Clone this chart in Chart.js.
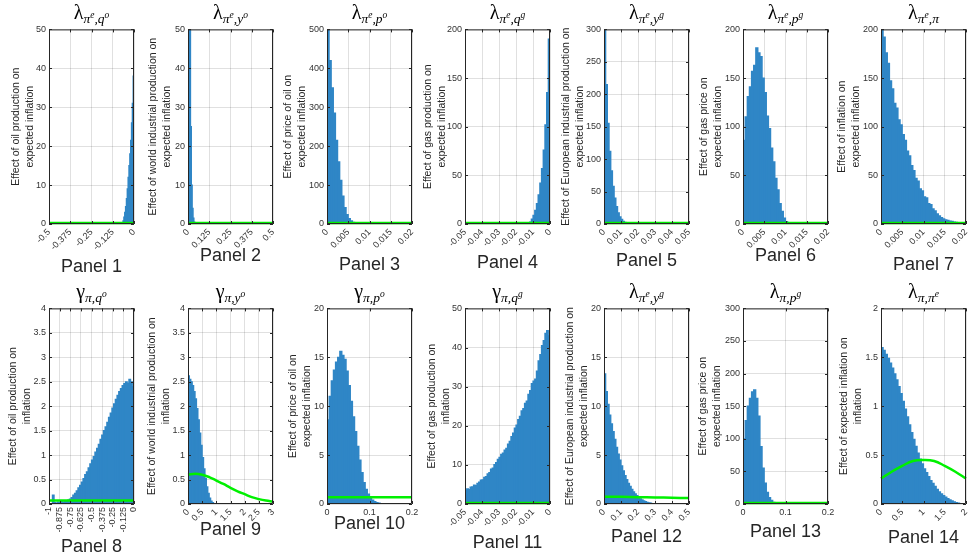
<!DOCTYPE html>
<html>
<head>
<meta charset="utf-8">
<script src="https://cdn.jsdelivr.net/npm/chart.js@4.4.1/dist/chart.umd.min.js"></script>
<style>
    body { margin: 0; width: 971px; height: 559px; background: #fff; position: relative; overflow: hidden;
           font-family: "Liberation Sans", Arial, sans-serif; }
    canvas { position: absolute; }
    .ttl { position: absolute; width: 120px; text-align: center; font-family: "Liberation Serif", serif;
           font-size: 20px; line-height: 20px; color: #000; white-space: nowrap; }
    .ttl .sb { font-size: 13.5px; font-style: italic; position: relative; top: 4px; }
    .ttl .sp { font-size: 9.5px; position: relative; top: -5px; }
    .lbl { position: absolute; width: 120px; text-align: center; font-size: 18px; line-height: 20px; color: #262626; }
</style>
</head>
<body>
<script>
// ---- data ----
// histogram bars: first bin edge, bin width, heights
const binStart = [-0.07, 0, 0, -0.013, 0, 0, 0, -1, 0, 0, -0.05, 0, 0, 0];
const binWidth = [0.005, 0.005, 0.0005, 0.001, 0.001, 0.0005, 0.0005, 0.02, 0.05, 0.005, 0.001, 0.01, 0.005, 0.05];

const hist1 = [0.2, 0.8, 1.8, 3, 4.5, 6.5, 9, 12, 15, 18, 21.5, 26, 31, 38];
const hist2 = [150, 90, 55, 25, 10, 4, 1.5, 0.5, 0.2];
const hist3 = [520, 420, 350, 285, 215, 160, 112, 72, 42, 24, 14, 8, 4.5, 2.5, 1.2, 0.5];
const hist4 = [0.5, 2, 5, 9, 14, 21, 30, 42, 57, 76, 102, 135, 190];
const hist5 = [320, 215, 155, 112, 82, 58, 40, 27, 17, 11, 7, 4, 2.5, 1.5, 0.8, 0.4];
const hist6 = [86, 110, 131, 141, 157, 163, 181, 176, 172, 150, 135, 111, 98, 78, 64, 47, 35, 21, 13, 6, 2.5, 0.8];
const hist7 = [215, 192, 176, 165, 147, 139, 124, 119, 107, 102, 92, 86, 75, 70, 60, 55, 47, 44, 36, 34,
               28, 27, 21, 20, 15.5, 13.5, 10.5, 8.5, 6.5, 5.2, 4.3, 3.7, 3, 2.6, 2, 1.7, 1.2, 0.9, 0.6, 0.4];
const hist8 = [0, 0, 0.18, 0.03, 0.02, 0.04, 0.03, 0.05, 0.04, 0.06, 0.05, 0.08, 0.1, 0.13, 0.18, 0.22, 0.27,
               0.33, 0.38, 0.45, 0.52, 0.6, 0.66, 0.74, 0.82, 0.9, 0.97, 1.06, 1.14, 1.22, 1.32, 1.41, 1.5, 1.58,
               1.67, 1.77, 1.86, 1.96, 2.05, 2.14, 2.22, 2.3, 2.36, 2.42, 2.46, 2.5, 2.47, 2.55, 2.5, 2.4];
const hist9 = [2.62, 2.55, 2.5, 2.42, 2.3, 2.15, 1.95, 1.72, 1.45, 1.2, 0.95, 0.72, 0.52, 0.35, 0.22, 0.12, 0.06, 0.03, 0.01];
const hist10 = [8.6, 11, 12.6, 13.7, 14.5, 15, 15.6, 15.2, 14.8, 13.6, 12.1, 10.5, 8.9, 7.4, 5.9, 4.5, 3.2, 2.2,
                1.5, 1.0, 0.6, 0.4, 0.25, 0.15, 0.1, 0.05, 0.03];
const hist11 = [3.5, 3.9, 3.7, 4.3, 4.4, 4.8, 4.7, 5.3, 5.6, 6.1, 6.2, 6.8, 7.0, 7.7, 8.0, 8.9, 9.2, 10.1, 10.6,
                11.4, 11.9, 12.7, 13.0, 13.8, 14.2, 15.3, 16.0, 17.2, 18.1, 19.4, 20.2, 21.6, 22.4, 23.8, 24.4,
                25.7, 26.3, 28.0, 29.0, 30.8, 31.4, 31.9, 34.0, 36.6, 38.2, 40.5, 41.8, 43.6, 44.3, 43.0];
const hist12 = [13.3, 11.5, 10.2, 9.1, 8.2, 7.4, 6.6, 5.8, 5.1, 4.5, 3.9, 3.4, 2.9, 2.5, 2.1, 1.8, 1.5, 1.25,
                1.05, 0.85, 0.68, 0.53, 0.42, 0.32, 0.24, 0.17, 0.12, 0.08, 0.05, 0.03];
const hist13 = [100, 128, 150, 162, 172, 175, 162, 135, 88, 55, 32, 18, 10, 5.5, 2.5, 1];
const hist14 = [1.6, 1.57, 1.53, 1.49, 1.44, 1.39, 1.33, 1.27, 1.2, 1.13, 1.05, 0.97, 0.89, 0.81, 0.73, 0.66,
                0.59, 0.52, 0.46, 0.41, 0.36, 0.32, 0.28, 0.24, 0.21, 0.18, 0.15, 0.125, 0.105, 0.085, 0.07,
                0.055, 0.042, 0.031, 0.022, 0.014, 0.008, 0.004];

// green prior curves (x, y)
const priorX = [[-0.5, 0], [0, 0.5], [0, 0.02], [-0.05, 0], [0, 0.05], [0, 0.02], [0, 0.02], [-1, 0],
                [0, 0.25, 0.5, 0.75, 1, 1.25, 1.5, 1.75, 2, 2.25, 2.5, 2.75, 3], [0, 0.2], [-0.05, 0],
                [0, 0.1, 0.2, 0.3, 0.4, 0.5], [0, 0.2], [0, 0.25, 0.5, 0.75, 1, 1.25, 1.5, 1.75, 2]];
const priorY = [[0.25, 0.25], [0.25, 0.25], [2.5, 2.5], [1, 1], [1.5, 1.5], [1, 1], [1, 1], [0.07, 0.07],
                [0.6, 0.62, 0.6, 0.55, 0.48, 0.41, 0.33, 0.26, 0.2, 0.14, 0.1, 0.07, 0.05], [0.7, 0.7], [0.25, 0.25],
                [0.75, 0.73, 0.7, 0.67, 0.64, 0.61], [1.5, 1.5], [0.26, 0.33, 0.39, 0.44, 0.45, 0.44, 0.39, 0.33, 0.26]];

// tick values
const xTicks = [
    [-0.5, -0.375, -0.25, -0.125, 0], [0, 0.125, 0.25, 0.375, 0.5], [0, 0.005, 0.01, 0.015, 0.02],
    [-0.05, -0.04, -0.03, -0.02, -0.01, 0], [0, 0.01, 0.02, 0.03, 0.04, 0.05], [0, 0.005, 0.01, 0.015, 0.02],
    [0, 0.005, 0.01, 0.015, 0.02], [-1, -0.875, -0.75, -0.625, -0.5, -0.375, -0.25, -0.125, 0],
    [0, 0.5, 1, 1.5, 2, 2.5, 3], [0, 0.1, 0.2], [-0.05, -0.04, -0.03, -0.02, -0.01, 0],
    [0, 0.1, 0.2, 0.3, 0.4, 0.5], [0, 0.1, 0.2], [0, 0.5, 1, 1.5, 2]
];
const yTicks = [
    [0, 10, 20, 30, 40, 50], [0, 10, 20, 30, 40, 50], [0, 100, 200, 300, 400, 500], [0, 50, 100, 150, 200],
    [0, 50, 100, 150, 200, 250, 300], [0, 50, 100, 150, 200], [0, 50, 100, 150, 200],
    [0, 0.5, 1, 1.5, 2, 2.5, 3, 3.5, 4], [0, 0.5, 1, 1.5, 2, 2.5, 3, 3.5, 4], [0, 5, 10, 15, 20],
    [0, 10, 20, 30, 40, 50], [0, 5, 10, 15, 20], [0, 50, 100, 150, 200, 250, 300], [0, 0.5, 1, 1.5, 2]
];

// labels
const yLabels = [
    ['Effect of oil production on', 'expected inflation'],
    ['Effect of world industrial production on', 'expected inflation'],
    ['Effect of price of oil on', 'expected inflation'],
    ['Effect of gas production on', 'expected inflation'],
    ['Effect of European industrial production on', 'expected inflation'],
    ['Effect of gas price on', 'expected inflation'],
    ['Effect of inflation on', 'expected inflation'],
    ['Effect of oil production on', 'inflation'],
    ['Effect of world industrial production on', 'inflation'],
    ['Effect of price of oil on', 'expected inflation'],
    ['Effect of gas production on', 'inflation'],
    ['Effect of European industrial production on', 'expected inflation'],
    ['Effect of gas price on', 'expected inflation'],
    ['Effect of expected inflation on', 'inflation']
];
const titleSymbol = ['λ', 'λ', 'λ', 'λ', 'λ', 'λ', 'λ', 'γ', 'γ', 'γ', 'γ', 'λ', 'λ', 'λ'];
const titleSub1 = ['π', 'π', 'π', 'π', 'π', 'π', 'π', 'π', 'π', 'π', 'π', 'π', 'π', 'π'];
const titleSup1 = ['e', 'e', 'e', 'e', 'e', 'e', 'e', '', '', '', '', 'e', '', ''];
const titleSub2 = ['q', 'y', 'p', 'q', 'y', 'p', 'π', 'q', 'y', 'p', 'q', 'y', 'p', 'π'];
const titleSup2 = ['o', 'o', 'o', 'g', 'g', 'g', '', 'o', 'o', 'o', 'g', 'g', 'g', 'e'];

// ---- layout ----
const colLeft = [49, 188, 327, 465, 604, 743, 881];
const rowTop = [29, 308];
const plotHeight = [195, 196];
const plotWidth = 85;
const padTop = 8, padRight = 14, xAxisHeight = 60;
const yAxisWidth = [40, 42, 46, 44, 45, 46, 46, 43, 43, 41, 40, 41, 47, 44];
const labelRotation = [45, 45, 45, 45, 45, 45, 45, 90, 45, 0, 45, 45, 0, 45];
const panelLabelY = [266, 255, 264, 262, 260, 255, 264, 546, 529, 523, 542, 536, 531, 537];

const hists = [hist1, hist2, hist3, hist4, hist5, hist6, hist7, hist8, hist9, hist10, hist11, hist12, hist13, hist14];

// box and inner tick marks like MATLAB axes
const boxPlugin = {
    id: 'matlabBox',
    afterDatasetsDraw(chart) {
        const { ctx, chartArea: a, scales } = chart;
        ctx.save();
        ctx.strokeStyle = '#262626';
        ctx.lineWidth = 1;
        ctx.beginPath();
        ctx.rect(a.left + 0.5, a.top + 0.5, a.right - a.left - 1, a.bottom - a.top - 1);
        scales.x.ticks.forEach(t => {
            const px = Math.round(scales.x.getPixelForValue(t.value)) + 0.5;
            ctx.moveTo(px, a.bottom); ctx.lineTo(px, a.bottom - 3);
            ctx.moveTo(px, a.top); ctx.lineTo(px, a.top + 3);
        });
        scales.y.ticks.forEach(t => {
            const py = Math.round(scales.y.getPixelForValue(t.value)) + 0.5;
            ctx.moveTo(a.left, py); ctx.lineTo(a.left + 3, py);
            ctx.moveTo(a.right, py); ctx.lineTo(a.right - 3, py);
        });
        ctx.stroke();
        ctx.restore();
    }
};

function makePanel(i) {
    const col = i % 7, row = Math.floor(i / 7);
    const left = colLeft[col], top = rowTop[row], h = plotHeight[row];
    const yW = yAxisWidth[i];

    const canvas = document.createElement('canvas');
    canvas.width = yW + plotWidth + padRight;
    canvas.height = padTop + h + xAxisHeight;
    canvas.style.left = (left - yW) + 'px';
    canvas.style.top = (top - padTop) + 'px';
    document.body.appendChild(canvas);

    const bars = hists[i].map((v, k) => ({ x: binStart[i] + (k + 0.5) * binWidth[i], y: v }));
    const prior = priorX[i].map((x, k) => ({ x: x, y: priorY[i][k] }));
    const xt = xTicks[i], yt = yTicks[i];

    new Chart(canvas.getContext('2d'), {
        data: {
            datasets: [{
                type: 'line',
                data: prior,
                borderColor: '#00f000',
                borderWidth: 2.5,
                pointRadius: 0,
                tension: 0.4,
                fill: false,
                clip: 3,
                order: 0
            }, {
                type: 'bar',
                data: bars,
                backgroundColor: '#2f86c6',
                borderWidth: 0,
                barPercentage: 1,
                categoryPercentage: 1,
                inflateAmount: 0.6,
                clip: 0,
                order: 1
            }]
        },
        options: {
            responsive: false,
            animation: false,
            events: [],
            layout: { padding: { top: padTop, right: padRight, left: 0, bottom: 0 } },
            plugins: { legend: { display: false }, tooltip: { enabled: false } },
            scales: {
                x: {
                    type: 'linear',
                    min: xt[0],
                    max: xt[xt.length - 1],
                    offset: false,
                    afterBuildTicks: s => { s.ticks = xt.map(v => ({ value: v })); },
                    afterFit: s => { s.height = xAxisHeight; },
                    grid: { color: 'rgba(0,0,0,0.12)', drawTicks: false, offset: false },
                    border: { display: false },
                    ticks: {
                        autoSkip: false,
                        minRotation: labelRotation[i],
                        maxRotation: labelRotation[i],
                        padding: 3,
                        color: '#333',
                        font: { size: 9 },
                        callback: v => String(v)
                    }
                },
                y: {
                    type: 'linear',
                    min: yt[0],
                    max: yt[yt.length - 1],
                    afterBuildTicks: s => { s.ticks = yt.map(v => ({ value: v })); },
                    afterFit: s => { s.width = yW; },
                    grid: { color: 'rgba(0,0,0,0.12)', drawTicks: false },
                    border: { display: false },
                    ticks: { padding: 3, color: '#333', font: { size: 9 }, callback: v => String(v) },
                    title: {
                        display: true,
                        text: yLabels[i],
                        color: '#262626',
                        font: { size: 10.5, lineHeight: 1.33 },
                        padding: { top: 0, bottom: 0 }
                    }
                }
            }
        },
        plugins: [boxPlugin]
    });

    // title above the plot
    const ttl = document.createElement('div');
    ttl.className = 'ttl';
    ttl.style.left = (left + plotWidth / 2 - 60) + 'px';
    ttl.style.top = (top - 27) + 'px';
    let sub = titleSub1[i];
    if (titleSup1[i]) sub += '<span class="sp">' + titleSup1[i] + '</span>';
    sub += ',' + titleSub2[i];
    if (titleSup2[i]) sub += '<span class="sp">' + titleSup2[i] + '</span>';
    ttl.innerHTML = titleSymbol[i] + '<span class="sb">' + sub + '</span>';
    document.body.appendChild(ttl);

    // "Panel N" under the axis
    const lbl = document.createElement('div');
    lbl.className = 'lbl';
    lbl.style.left = (left + plotWidth / 2 - 60) + 'px';
    lbl.style.top = (panelLabelY[i] - 10) + 'px';
    lbl.textContent = 'Panel ' + (i + 1);
    document.body.appendChild(lbl);
}

document.addEventListener('DOMContentLoaded', function() {
    Chart.defaults.font.family = '"Liberation Sans", Arial, sans-serif';
    for (let i = 0; i < 14; i++) {
        makePanel(i);
    }
});
</script>
</body>
</html>
